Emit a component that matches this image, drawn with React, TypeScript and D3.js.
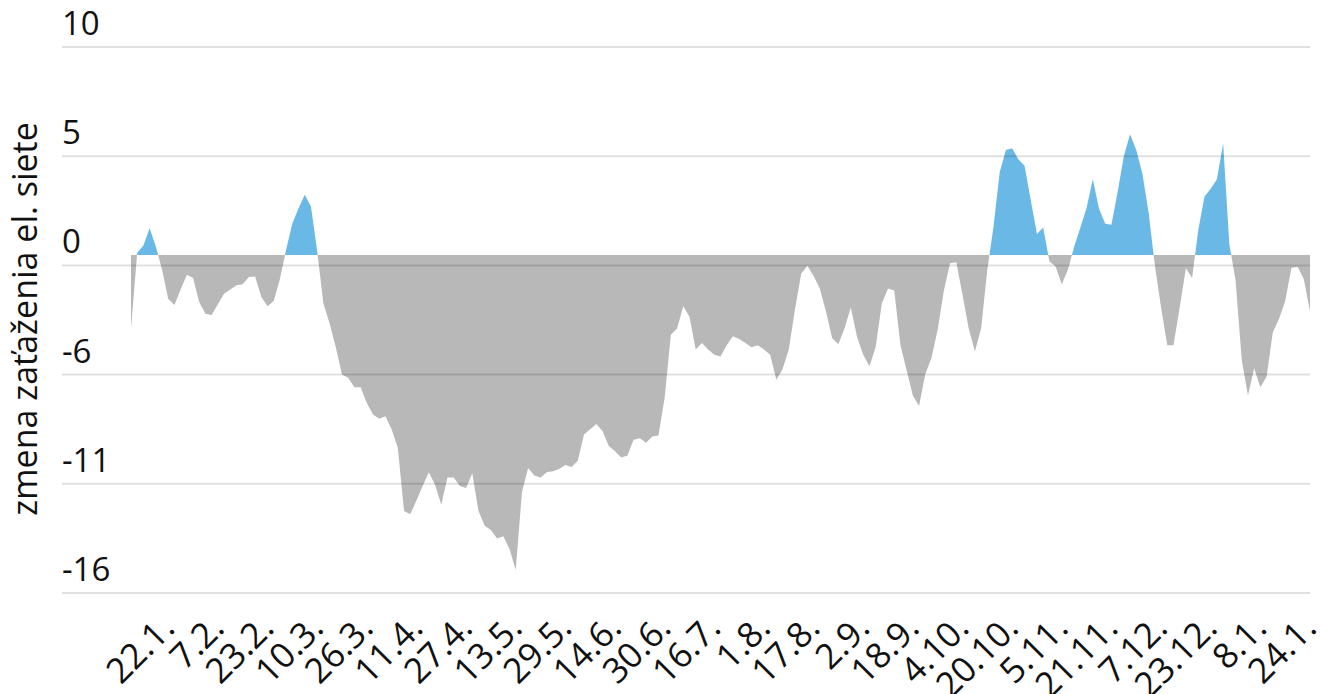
import React from 'react';
import * as d3 from 'd3';

// daily series sampled every 2 days, starting 8.1.2020
const START = Date.UTC(2020, 0, 8);
const STEP_DAYS = 2;
const values = [
  -3.5, 0.1, 0.45, 1.27, 0.4, -0.7, -2.1, -2.38, -1.65, -0.95,
  -1.1, -2.25, -2.8, -2.86, -2.35, -1.85, -1.65, -1.45, -1.4, -1.05,
  -1.03, -2.0, -2.45, -2.2, -1.15, 0.25, 1.5, 2.22, 2.87, 2.3,
  0.2, -2.3, -3.25, -4.4, -5.7, -5.85, -6.3, -6.3, -7.05, -7.6,
  -7.8, -7.68, -8.3, -9.2, -12.2, -12.35, -11.7, -11.0, -10.35, -10.95,
  -11.9, -10.6, -10.6, -11.0, -11.1, -10.4, -12.2, -12.9, -13.1, -13.5,
  -13.4, -14.0, -15.0, -11.3, -10.15, -10.5, -10.6, -10.35, -10.3, -10.2,
  -10.0, -10.1, -9.8, -8.55, -8.3, -8.05, -8.4, -9.1, -9.35, -9.65,
  -9.55, -8.8, -8.73, -8.95, -8.65, -8.6, -6.8, -3.8, -3.5, -2.45,
  -2.94, -4.5, -4.2, -4.5, -4.75, -4.84, -4.3, -3.87, -4.0, -4.2,
  -4.4, -4.3, -4.5, -4.75, -5.95, -5.45, -4.5, -2.6, -0.9, -0.52,
  -1.0, -1.6, -2.7, -3.97, -4.25, -3.48, -2.5, -3.9, -4.75, -5.3,
  -4.4, -2.3, -1.6, -1.7, -4.3, -5.5, -6.7, -7.2, -5.68, -4.9,
  -3.55, -1.7, -0.4, -0.35, -1.9, -3.5, -4.6, -3.5, -0.7, 1.35,
  3.95, 5.0, 5.08, 4.55, 4.25, 2.6, 1.0, 1.3, -0.3, -0.55,
  -1.4, -0.7, 0.4, 1.3, 2.25, 3.6, 2.2, 1.48, 1.43, 3.0,
  4.7, 5.75, 5.0, 3.85, 2.0, -0.5, -2.5, -4.3, -4.3, -2.5,
  -0.63, -1.1, 1.2, 2.78, 3.15, 3.6, 5.3, 0.5, -1.2, -5.0,
  -6.7, -5.4, -6.3, -5.8, -3.7, -3.05, -2.2, -0.62, -0.56, -1.15,
  -2.7,
];

const yTicks = [9.9, 4.7, -0.5, -5.7, -10.9, -16.1];

const tickDates = [
  '2020-01-22', '2020-02-07', '2020-02-23', '2020-03-10', '2020-03-26', '2020-04-11',
  '2020-04-27', '2020-05-13', '2020-05-29', '2020-06-14', '2020-06-30', '2020-07-16',
  '2020-08-01', '2020-08-17', '2020-09-02', '2020-09-18', '2020-10-04', '2020-10-20',
  '2020-11-05', '2020-11-21', '2020-12-07', '2020-12-23', '2021-01-08', '2021-01-24',
];
const tickLabels = [
  '22.1.', '7.2.', '23.2.', '10.3.', '26.3.', '11.4.', '27.4.', '13.5.', '29.5.', '14.6.',
  '30.6.', '16.7.', '1.8.', '17.8.', '2.9.', '18.9.', '4.10.', '20.10.', '5.11.', '21.11.',
  '7.12.', '23.12.', '8.1.', '24.1.',
];

const W = 1323;
const H = 694;
const FONT = '"Open Sans", "Noto Sans", sans-serif';

export default function App() {
  const data = values.map((v, i) => ({
    date: d3.utcDay.offset(new Date(START), i * STEP_DAYS),
    value: v,
  }));

  const x = d3.scaleUtc()
    .domain([data[0].date, data[data.length - 1].date])
    .range([131, 1310]);

  const y = d3.scaleLinear().domain([-16.1, 9.9]).range([593, 47]);
  const y0 = y(0);

  const area = d3.area<{ date: Date; value: number }>()
    .x(d => x(d.date))
    .y0(y0)
    .y1(d => y(d.value))
    .curve(d3.curveLinear);

  const path = area(data) || '';

  return (
    <svg width={W} height={H} style={{ position: 'absolute', left: 0, top: 0, background: '#fff' }}>
      <defs>
        <clipPath id="above">
          <rect x={0} y={0} width={W} height={y0} />
        </clipPath>
        <clipPath id="below">
          <rect x={0} y={y0} width={W} height={H - y0} />
        </clipPath>
      </defs>

      <path d={path} fill="#69b8e5" clipPath="url(#above)" />
      <path d={path} fill="#b8b8b8" clipPath="url(#below)" />

      {yTicks.map(t => (
        <g key={t}>
          <line x1={62} x2={1310} y1={y(t)} y2={y(t)} stroke="rgba(0,0,0,0.12)" strokeWidth={2} />
          <text x={62} y={y(t) - 12} fontFamily={FONT} fontSize={33} fill="#111">
            {String(Math.round(t))}
          </text>
        </g>
      ))}

      <text
        transform="translate(37,319) rotate(-90)"
        textAnchor="middle"
        fontFamily={FONT}
        fontSize={34}
        fill="#111"
      >
        zmena zaťaženia el. siete
      </text>

      {tickDates.map((d, i) => {
        const tx = x(new Date(d + 'T00:00:00Z'));
        return (
          <text
            key={d}
            transform={`translate(${tx + 2},630) rotate(-45)`}
            textAnchor="end"
            fontFamily={FONT}
            fontSize={35}
            fill="#111"
          >
            {tickLabels[i]}
          </text>
        );
      })}
    </svg>
  );
}
